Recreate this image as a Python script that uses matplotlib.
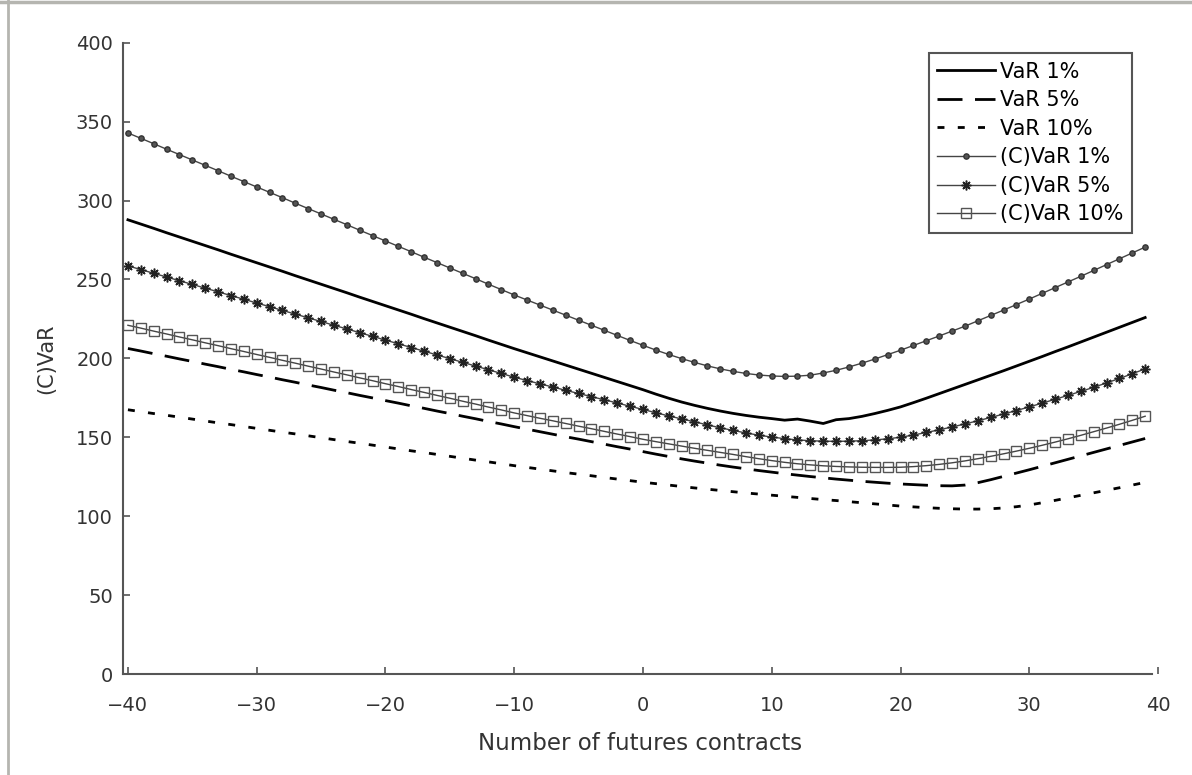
import matplotlib.pyplot as plt
from matplotlib.lines import Line2D
import numpy as np

# numero di contratti futures (asse x)
contracts = np.arange(-40, 40)

var1 = [287.8, 285.1, 282.4, 279.6, 276.9, 274.2, 271.5, 268.8, 266.0, 263.3,
        260.6, 257.9, 255.2, 252.4, 249.7, 247.0, 244.3, 241.6, 238.8, 236.1,
        233.4, 230.7, 228.0, 225.2, 222.5, 219.8, 217.1, 214.4, 211.6, 208.9,
        206.2, 203.6, 201.0, 198.4, 195.8, 193.2, 190.6, 188.0, 185.4, 182.8,
        180.2, 177.4, 174.8, 172.4, 170.3, 168.4, 166.7, 165.2, 163.9, 162.8,
        161.9, 160.9, 161.6, 160.3, 158.8, 161.2, 161.9, 163.3, 165.1, 167.1,
        169.3, 172.0, 174.8, 177.7, 180.6, 183.5, 186.4, 189.3, 192.2, 195.2,
        198.2, 201.2, 204.3, 207.3, 210.4, 213.5, 216.6, 219.7, 222.8, 225.9]

var5 = [206.3, 204.7, 203.0, 201.4, 199.7, 198.1, 196.4, 194.8, 193.1, 191.5,
        189.8, 188.2, 186.5, 184.9, 183.2, 181.6, 179.9, 178.3, 176.6, 175.0,
        173.3, 171.7, 170.0, 168.4, 166.7, 165.1, 163.4, 161.8, 160.1, 158.5,
        156.8, 155.2, 153.6, 152.0, 150.4, 148.9, 147.3, 145.7, 144.1, 142.6,
        141.0, 139.4, 137.9, 136.4, 135.0, 133.7, 132.4, 131.2, 130.1, 129.0,
        128.0, 127.0, 126.1, 125.2, 124.4, 123.6, 122.9, 122.2, 121.6, 121.0,
        120.5, 120.1, 119.7, 119.4, 119.3, 119.8, 121.3, 123.2, 125.3, 127.4,
        129.5, 131.7, 133.9, 136.1, 138.3, 140.5, 142.7, 144.9, 147.1, 149.3]

var10 = [167.5, 166.3, 165.1, 164.0, 162.8, 161.6, 160.4, 159.2, 158.1, 156.9,
         155.7, 154.5, 153.3, 152.2, 151.0, 149.8, 148.6, 147.4, 146.3, 145.1,
         143.9, 142.7, 141.5, 140.4, 139.2, 138.0, 136.8, 135.6, 134.5, 133.3,
         132.1, 131.0, 129.9, 128.8, 127.7, 126.7, 125.7, 124.6, 123.6, 122.6,
         121.6, 120.7, 119.8, 118.9, 118.0, 117.2, 116.4, 115.6, 114.8, 114.1,
         113.4, 112.7, 112.0, 111.3, 110.6, 110.0, 109.3, 108.6, 107.9, 107.2,
         106.5, 106.0, 105.5, 105.1, 104.8, 104.6, 104.6, 104.8, 105.3, 106.1,
         107.2, 108.6, 110.1, 111.7, 113.3, 114.9, 116.5, 118.1, 119.8, 121.5]

cvar1 = [342.8, 339.4, 336.0, 332.5, 329.1, 325.7, 322.3, 318.9, 315.4, 312.0,
         308.6, 305.2, 301.8, 298.3, 294.9, 291.5, 288.1, 284.7, 281.2, 277.8,
         274.4, 271.0, 267.6, 264.1, 260.7, 257.3, 253.9, 250.5, 247.0, 243.6,
         240.2, 237.0, 233.8, 230.6, 227.4, 224.2, 221.0, 217.8, 214.6, 211.4,
         208.3, 205.3, 202.5, 199.9, 197.5, 195.3, 193.4, 191.8, 190.5, 189.5,
         188.9, 188.6, 188.8, 189.4, 190.8, 192.5, 194.6, 197.0, 199.6, 202.4,
         205.2, 208.2, 211.2, 214.2, 217.3, 220.4, 223.8, 227.2, 230.6, 234.1,
         237.6, 241.2, 244.8, 248.4, 252.0, 255.7, 259.4, 263.1, 266.8, 270.5]

cvar5 = [258.6, 256.3, 253.9, 251.6, 249.2, 246.9, 244.5, 242.2, 239.8, 237.5,
         235.1, 232.8, 230.4, 228.1, 225.7, 223.4, 221.0, 218.7, 216.3, 214.0,
         211.6, 209.3, 206.9, 204.6, 202.2, 199.9, 197.5, 195.2, 192.8, 190.5,
         188.1, 186.0, 183.9, 181.9, 179.8, 177.8, 175.8, 173.8, 171.8, 169.7,
         167.7, 165.6, 163.6, 161.7, 159.9, 157.9, 156.1, 154.4, 152.8, 151.4,
         150.2, 149.2, 148.4, 147.9, 147.6, 147.5, 147.6, 147.9, 148.4, 149.1,
         150.1, 151.5, 153.1, 154.8, 156.6, 158.5, 160.5, 162.6, 164.8, 167.0,
         169.3, 171.7, 174.1, 176.6, 179.1, 181.7, 184.5, 187.3, 190.3, 193.4]

cvar10 = [221.0, 219.2, 217.3, 215.5, 213.6, 211.8, 209.9, 208.1, 206.2, 204.4,
          202.5, 200.7, 198.8, 197.0, 195.1, 193.3, 191.4, 189.6, 187.7, 185.9,
          184.0, 182.2, 180.3, 178.5, 176.6, 174.8, 172.9, 171.1, 169.2, 167.4,
          165.5, 163.8, 162.1, 160.5, 158.8, 157.1, 155.5, 153.8, 152.1, 150.5,
          148.8, 147.3, 145.9, 144.5, 143.1, 141.8, 140.5, 139.2, 137.8, 136.5,
          135.3, 134.2, 133.3, 132.6, 132.0, 131.6, 131.3, 131.1, 131.0, 131.0,
          131.1, 131.5, 132.1, 132.9, 133.9, 135.1, 136.5, 138.0, 139.6, 141.3,
          143.1, 145.0, 147.0, 149.1, 151.3, 153.6, 155.9, 158.3, 160.8, 163.4]

xticks = np.arange(-40, 41, 10)
yticks = np.arange(0, 401, 50)

fig = plt.figure(figsize=(11.92, 7.75), dpi=100)
ax = fig.add_axes([0.103, 0.130, 0.8685, 0.815])

# linee VaR (senza marker)
ax.plot(contracts, var1, color='black', lw=2.0, label='VaR 1%')
ax.plot(contracts, var5, color='black', lw=2.0, ls=(0, (9, 4.5)), label='VaR 5%')
ax.plot(contracts, var10, color='black', lw=2.0, ls=(0, (2.5, 4.8)), label='VaR 10%')

# linee (C)VaR con marker
ax.plot(contracts, cvar1, color='#444444', lw=1.0, marker='o', ms=3.8,
        mfc='#555555', mec='#333333', label='(C)VaR 1%')
ax.plot(contracts, cvar5, color='#444444', lw=1.0, marker=(8, 2, 0), ms=7,
        mec='#222222', mew=1.1, label='(C)VaR 5%')
ax.plot(contracts, cvar10, color='#444444', lw=1.0, marker='s', ms=6.5,
        mfc='none', mec='#555555', mew=1.0, label='(C)VaR 10%')

ax.set_xlim(-40.4, 40)
ax.set_ylim(0, 400)
ax.set_xticks(xticks)
ax.set_yticks(yticks)
ax.tick_params(direction='in', length=5, width=1.2, colors='#555555',
               labelcolor='#333333', labelsize=14)
ax.tick_params(axis='x', pad=16)
ax.tick_params(axis='y', pad=7)
ax.spines['top'].set_visible(False)
ax.spines['right'].set_visible(False)
for s in ['left', 'bottom']:
    ax.spines[s].set_color('#555555')
    ax.spines[s].set_linewidth(1.5)
ax.spines['bottom'].set_bounds(-40.4, 39.5)

ax.set_xlabel('Number of futures contracts', fontsize=16.5, color='#333333', labelpad=12)
ax.set_ylabel('(C)VaR', fontsize=15, color='#333333', labelpad=14)

leg = ax.legend(loc='upper right', bbox_to_anchor=(0.975, 0.983), borderaxespad=0,
                fontsize=15, handlelength=2.8, handletextpad=0.25,
                labelspacing=0.41, fancybox=False, framealpha=1,
                edgecolor='#555555', borderpad=0.4)
leg.get_frame().set_linewidth(1.5)

# cornice grigia (solo sopra e a sinistra, come nell'originale)
fig.add_artist(Line2D([0, 1], [0.998, 0.998], transform=fig.transFigure,
                      color='#b5b5b0', lw=2.5))
fig.add_artist(Line2D([0.0065, 0.0065], [0, 1], transform=fig.transFigure,
                      color='#b5b5b0', lw=2.0))

fig.savefig('out.png', dpi=100)
